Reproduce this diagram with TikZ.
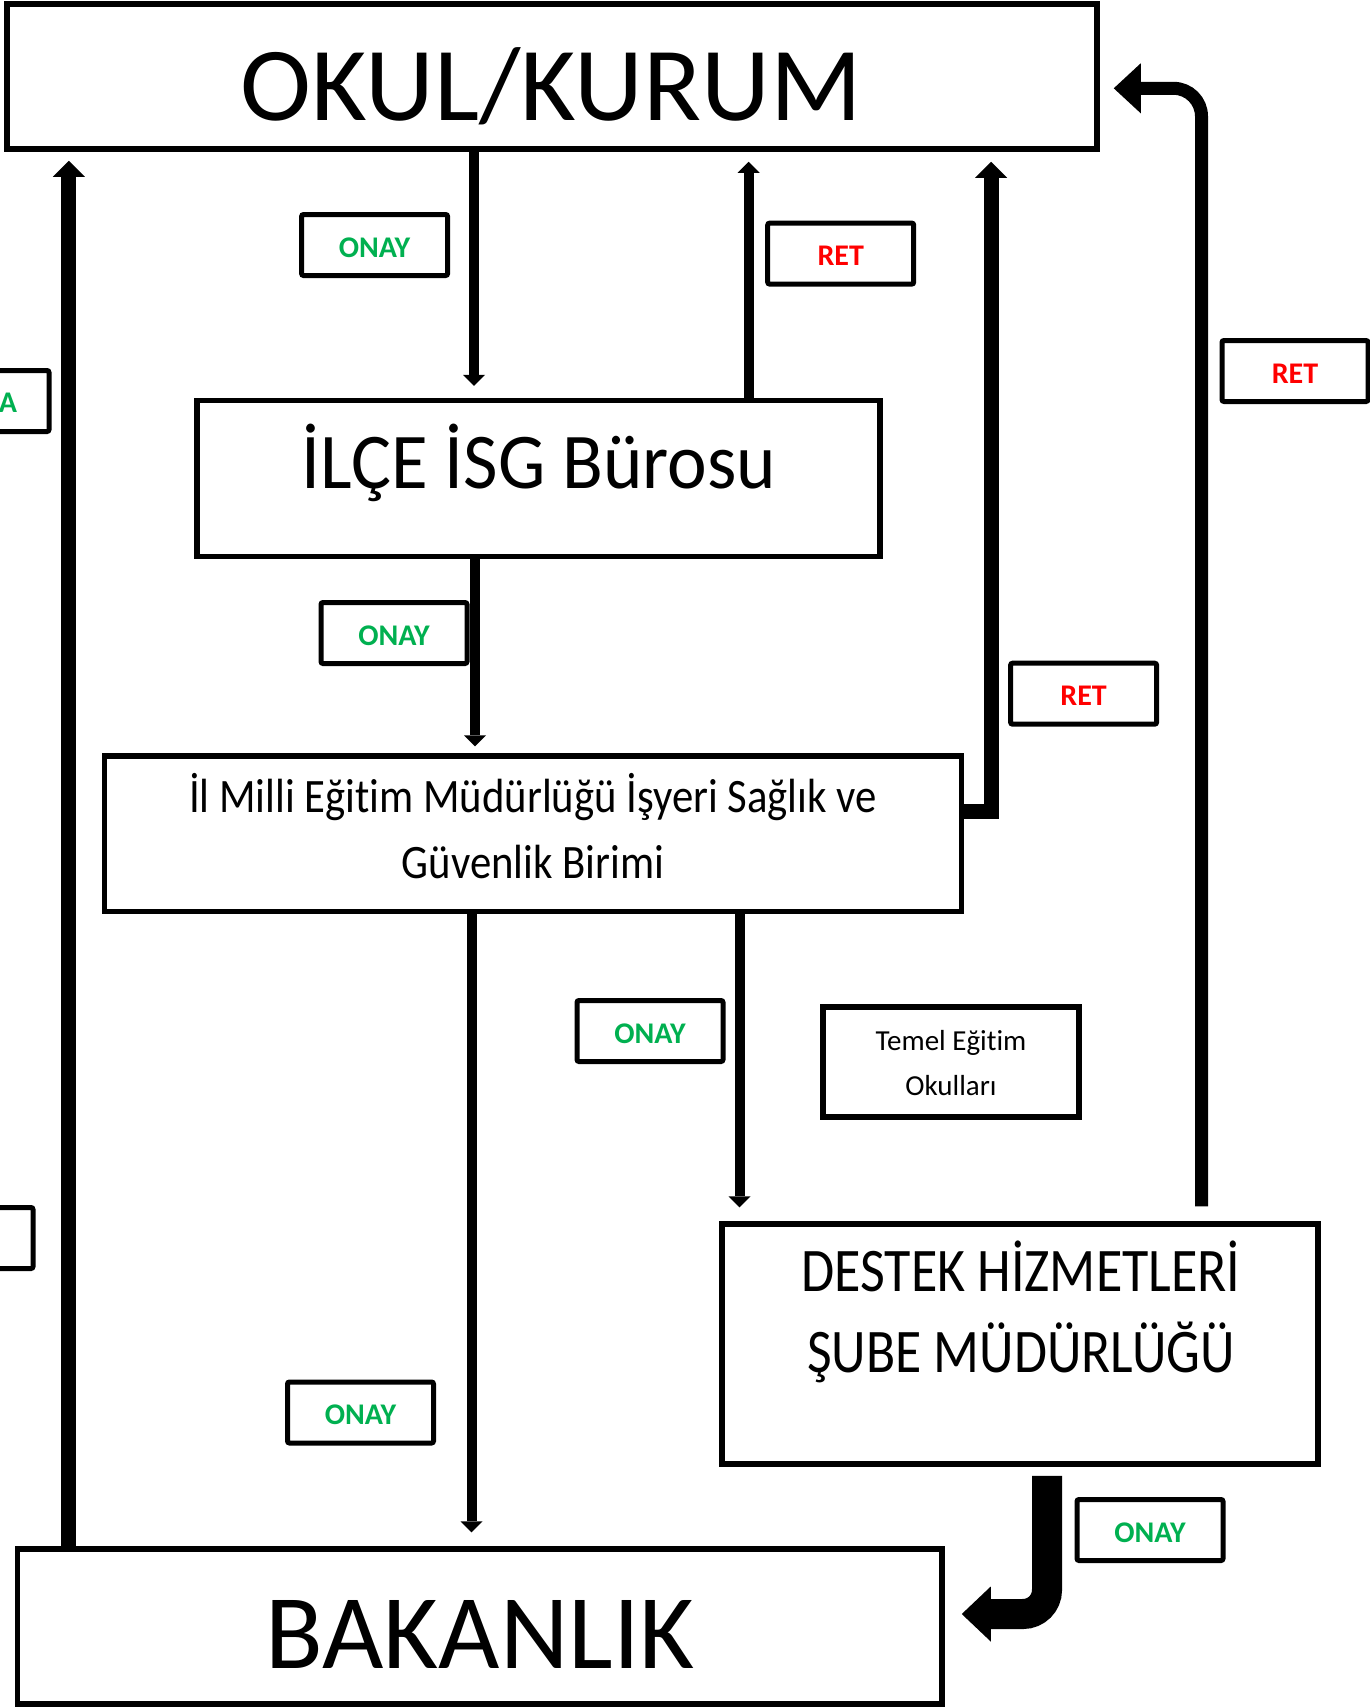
\documentclass[tikz,border=0pt]{standalone}
\usepackage{fontspec}
\setmainfont{Carlito}[Ligatures=NoCommon]
\usetikzlibrary{arrows.meta,calc}
\definecolor{okgreen}{RGB}{0,176,80}
\definecolor{nored}{RGB}{255,0,0}
\begin{document}
\begin{tikzpicture}[x=1pt,y=-1pt,
  box/.style={draw, line width=5.5pt, inner sep=0pt},
  lab/.style={draw, line width=5pt, rounded corners=2pt, minimum width=146pt, minimum height=61pt, inner sep=0pt, text height=24pt, text depth=0pt, font=\fontsize{30}{36}\selectfont\bfseries},
  onay/.style={lab, text=okgreen},
  ret/.style={lab, text=nored},
  txt/.style={anchor=base, inner sep=0pt},
  thinar/.style={line width=10pt, -{Triangle[length=11pt,width=22pt,line width=0pt]}},
  thickar/.style={line width=15pt, line join=miter, -{Triangle[length=16pt,width=32pt,line width=0pt]}},
  rethook/.style={line width=13pt, rounded corners=28pt, -{Triangle[length=27pt,width=50pt,line width=0pt]}},
  onayhook/.style={line width=30pt, rounded corners=24pt, -{Triangle[length=29pt,width=55pt,line width=0pt]}}
]
\useasboundingbox (0,0) rectangle (1370,1708);
\fill[white] (0,0) rectangle (1370,1708);
\clip (0,0) rectangle (1370,1708);

% main boxes
\node[box, minimum width=1090pt, minimum height=145pt] (okul) at (552,76.5) {};
\node[box, minimum width=683pt, minimum height=155.8pt] (ilce) at (538.5,478.6) {};
\node[box, minimum width=857pt, minimum height=155.5pt] (il) at (533,833.75) {};
\node[box, minimum width=596pt, minimum height=240pt] (destek) at (1020,1344) {};
\node[box, minimum width=924.6pt, minimum height=155pt] (bak) at (479.7,1626.5) {};
\node[box, minimum width=256pt, minimum height=110pt] (temel) at (951,1062) {};

% texts
\node[txt, font=\fontsize{105}{120}\selectfont] (okult) at (551,120) {\scalebox{1.02}[1]{OKUL/KURUM}};
\node[txt, font=\fontsize{79}{90}\selectfont] (ilcet) at (539,488) {\scalebox{0.95}[1]{İLÇE İSG Bürosu}};
\node[txt, font=\fontsize{48}{58}\selectfont] (ilta) at (533,812) {\scalebox{0.89}[1]{İl Milli Eğitim Müdürlüğü İşyeri Sağlık ve}};
\node[txt, font=\fontsize{48}{58}\selectfont] (iltb) at (533,878) {\scalebox{0.89}[1]{Güvenlik Birimi}};
\node[txt, font=\fontsize{62}{74}\selectfont] (destekta) at (1021,1291.6) {\scalebox{0.87}[1]{DESTEK HİZMETLERİ}};
\node[txt, font=\fontsize{62}{74}\selectfont] (destektb) at (1021,1372) {\scalebox{0.865}[1]{ŞUBE MÜDÜRLÜĞÜ}};
\node[txt, font=\fontsize{106}{120}\selectfont] (bakt) at (480,1668) {BAKANLIK};
\node[txt, font=\fontsize{29}{34}\selectfont] (temelta) at (951,1050) {Temel Eğitim};
\node[txt, font=\fontsize{29}{34}\selectfont] (temeltb) at (951,1095.6) {Okulları};

% labels
\node[onay] (onay1) at (374.6,245) {ONAY};
\node[ret] (ret1) at (840.7,253.6) {RET};
\node[lab] (onayL) at (-24,401) {};
\node[txt, font=\fontsize{30}{36}\selectfont\bfseries, text=okgreen] (onayLt) at (8,412) {A};
\node[onay] (onay2) at (394,633) {ONAY};
\node[ret] (ret2) at (1083.6,693.7) {RET};
\node[ret] (ret3) at (1295,371) {RET};
\node[onay] (onay3) at (650,1031) {ONAY};
\node[onay] (onay4) at (360.5,1412.5) {ONAY};
\node[onay] (onay5) at (1150,1530) {ONAY};
\node[lab] (emptyL) at (-40,1238) {};

% connector positions
\coordinate (xa) at (474,0);
\coordinate (xb) at (748.5,0);
\coordinate (xc) at (68.8,0);
\coordinate (xd) at (991,0);
\coordinate (yd) at (0,811);
\coordinate (xe) at (475,0);
\coordinate (xf) at (471.5,0);
\coordinate (xg) at (739.5,0);
\coordinate (xh) at (1201.5,0);
\coordinate (yh) at (0,88.3);
\coordinate (xi) at (1047,0);
\coordinate (yi) at (0,1614);

% connectors
\draw[thinar] (okul.south -| xa) -- ($(ilce.north -| xa)+(0,-12)$);
\draw[thinar] (ilce.north -| xb) -- ($(okul.south -| xb)+(0,10)$);
\draw[thickar] (bak.north -| xc) -- ($(okul.south -| xc)+(0,9)$);
\draw[thickar] (il.east |- yd) -| ($(okul.south -| xd)+(0,10)$);
\draw[thinar] (ilce.south -| xe) -- ($(il.north -| xe)+(0,-7)$);
\draw[thinar] (il.south -| xf) -- ($(bak.north -| xf)+(0,-14)$);
\draw[thinar] (il.south -| xg) -- ($(destek.north -| xg)+(0,-14)$);
\draw[rethook] ($(destek.north -| xh)+(0,-15)$) |- ($(okul.east |- yh)+(14,0)$);
\draw[onayhook] ($(destek.south -| xi)+(0,9)$) |- ($(bak.east |- yi)+(17,0)$);
\end{tikzpicture}
\end{document}
